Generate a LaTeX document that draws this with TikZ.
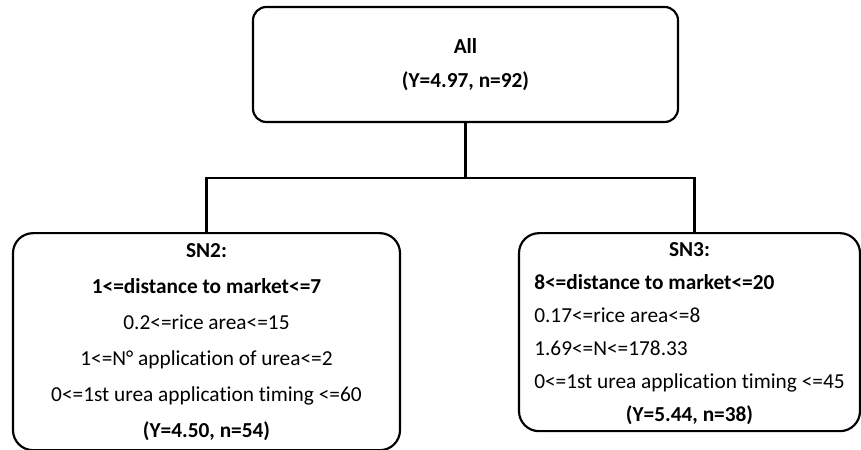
\documentclass[tikz,border=0pt]{standalone}
\usepackage{fontspec}
\setmainfont{Carlito}[Ligatures=NoCommon]
\usepackage{tikz}
\usetikzlibrary{positioning}

\begin{document}
\begin{tikzpicture}[
    box/.style={rectangle, draw, line width=1.3pt, rounded corners=8pt, inner sep=0pt, align=center},
    leaf/.style={box, rounded corners=12pt},
    conn/.style={line width=1.3pt}
]
    \useasboundingbox (0,0) rectangle (516.6pt,270pt);
    \node[box, minimum width=255pt, minimum height=69pt, font=\fontsize{12.8}{20.4}\selectfont] (all) at (279.3pt,231.3pt) {\textbf{All}\\\textbf{(Y=4.97, n=92)}};
    \coordinate[below=33pt of all.south] (split);
    \node[leaf, anchor=north, below=65.4pt of all.south, xshift=-155.4pt, minimum width=232.2pt, minimum height=130.2pt, font=\fontsize{12.8}{21.6}\selectfont] (sn2) {\textbf{SN2:}\\\textbf{1<=distance to market<=7}\\0.2<=rice area<=15\\1<=N° application of urea<=2\\0<=1st urea application timing <=60\\\textbf{(Y=4.50, n=54)}};
    \node[leaf, anchor=north, below=65.4pt of all.south, xshift=134.4pt, minimum width=204.6pt, minimum height=115.8pt, font=\fontsize{12.8}{19.8}\selectfont] (sn3) {\begin{tabular}{@{}l@{}}\multicolumn{1}{@{}c@{}}{\textbf{SN3:}}\\\textbf{8<=distance to market<=20}\\0.17<=rice area<=8\\1.69<=N<=178.33\\0<=1st urea application timing <=45\\\multicolumn{1}{@{}c@{}}{\textbf{(Y=5.44, n=38)}}\end{tabular}};

    \draw[conn] (all) -- (split);
    \draw[conn] (split) -| (sn2.north);
    \draw[conn] (split) -| ([xshift=3pt]sn3.north);
\end{tikzpicture}
\end{document}
